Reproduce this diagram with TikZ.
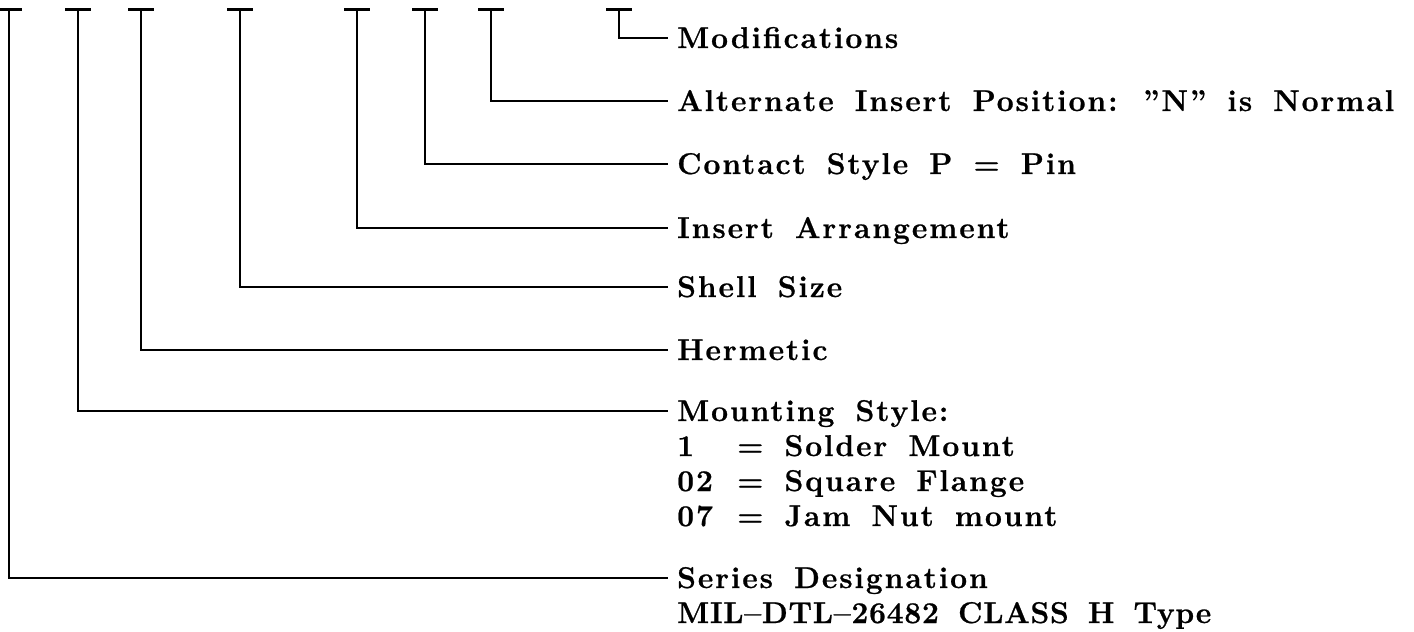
\documentclass[tikz,border=0pt]{standalone}
\usepackage{fontspec}
\setmainfont{Latin Modern Roman}[LetterSpace=6.5,WordSpace=1.6,BoldFeatures={FakeBold=0.8}]
\begin{document}
\begin{tikzpicture}[x=1pt,y=-1pt,
  lbl/.style={anchor=base west,inner sep=0pt,font=\fontsize{30}{35}\selectfont\bfseries},
  conn/.style={line width=2pt},
  bar/.style={line width=3pt}]
\useasboundingbox (0,0) rectangle (1414,632);
% ticks
\foreach \n/\x in {1/9,2/78,3/141,4/240,5/357,6/425,7/491,8/619}{
  \coordinate (t\n) at (\x,9);
  \draw[bar] ([xshift=-13pt]t\n) -- ([xshift=13pt]t\n);
}
% connector ends
\foreach \n/\y in {1/578,2/411,3/350,4/287,5/228,6/164,7/101,8/38}{
  \coordinate (e\n) at (668,\y);
}
% labels
\node[lbl] (n8) at (677,48) {Modifications};
\node[lbl] (n7) at (677,111) {Alternate Insert Position: ”N” is Normal};
\node[lbl] (n6) at (677,174) {Contact Style P = Pin};
\node[lbl] (n5) at (677,238) {Insert Arrangement};
\node[lbl] (n4) at (677,297) {Shell Size};
\node[lbl] (n3) at (677,360) {Hermetic};
\node[lbl] (n2) at (677,421) {\begin{tabular}[t]{@{}l@{}}
Mounting Style:\\
\makebox[60pt][l]{1}= Solder Mount\\
\makebox[60pt][l]{02}= Square Flange\\
\makebox[60pt][l]{07}= Jam Nut mount
\end{tabular}};
\node[lbl] (n1) at (677,588) {\begin{tabular}[t]{@{}l@{}}
Series Designation\\
{\addfontfeature{LetterSpace=2.5}MIL--DTL--26482 CLASS H Type}
\end{tabular}};
% connectors
\foreach \n in {1,...,8}{
  \draw[conn] (t\n) |- (e\n);
}
\end{tikzpicture}
\end{document}
